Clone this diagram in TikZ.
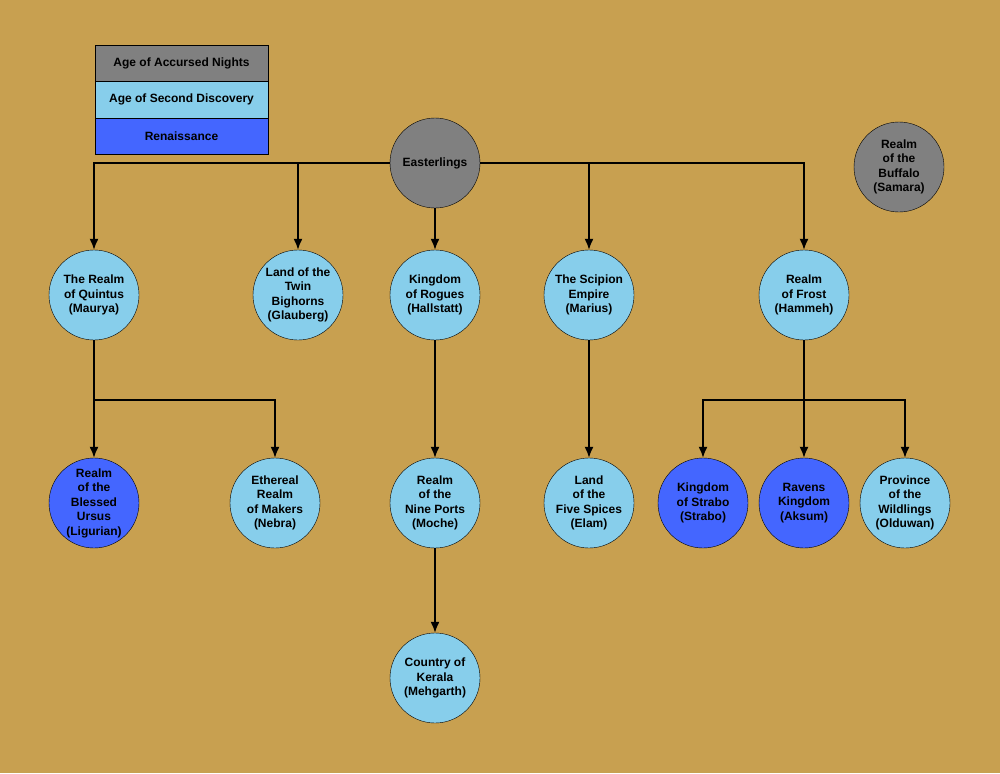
\documentclass[tikz,border=0pt]{standalone}
\usepackage{fontspec}
\setmainfont{Liberation Sans}
\usetikzlibrary{arrows.meta}
\definecolor{bgsand}{HTML}{C8A050}
\definecolor{agegray}{HTML}{808080}
\definecolor{agelight}{HTML}{87CEEB}
\definecolor{ageblue}{HTML}{4466FF}
\tikzset{>={Latex[width=9pt,length=11pt]}}
\tikzset{realm/.style={circle,draw=black,minimum size=90pt,inner sep=0pt,align=center,font=\bfseries\fontsize{12}{14.5}\selectfont}}
\tikzset{legend/.style={draw=black,minimum width=173pt,minimum height=36.5pt,inner sep=0pt,font=\bfseries\fontsize{12}{14}\selectfont}}
\tikzset{link/.style={line width=1.5pt,->}}

\begin{document}
\begin{tikzpicture}[x=1pt,y=-1pt]
  \fill[bgsand](0,0)rectangle(1000,773);
  \useasboundingbox(0,0)rectangle(1000,773);

  % legend
  \node[legend,fill=agegray](lgA) at (181.5,63){Age of Accursed Nights};
  \node[legend,fill=agelight](lgB) at (181.5,99.5){Age of Second Discovery};
  \node[legend,fill=ageblue](lgC) at (181.5,136){Renaissance};

  % realms
  \node[realm,fill=agegray](east) at (435,163){Easterlings};
  \node[realm,fill=agegray](buff) at (899,167){Realm\\of the\\Buffalo\\(Samara)};

  \node[realm,fill=agelight](quin) at (94,295){The Realm\\of Quintus\\(Maurya)};
  \node[realm,fill=agelight](twin) at (298,295){Land of the\\Twin\\Bighorns\\(Glauberg)};
  \node[realm,fill=agelight](rogu) at (435,295){Kingdom\\of Rogues\\(Hallstatt)};
  \node[realm,fill=agelight](scip) at (589,295){The Scipion\\Empire\\(Marius)};
  \node[realm,fill=agelight](fros) at (804,295){Realm\\of Frost\\(Hammeh)};

  \node[realm,fill=ageblue](ursu) at (94,503){Realm\\of the\\Blessed\\Ursus\\(Ligurian)};
  \node[realm,fill=agelight](make) at (275,503){Ethereal\\Realm\\of Makers\\(Nebra)};
  \node[realm,fill=agelight](port) at (435,503){Realm\\of the\\Nine Ports\\(Moche)};
  \node[realm,fill=agelight](spic) at (589,503){Land\\of the\\Five Spices\\(Elam)};
  \node[realm,fill=ageblue](stra) at (703,503){Kingdom\\of Strabo\\(Strabo)};
  \node[realm,fill=ageblue](rave) at (804,503){Ravens\\Kingdom\\(Aksum)};
  \node[realm,fill=agelight](wild) at (905,503){Province\\of the\\Wildlings\\(Olduwan)};

  \node[realm,fill=agelight](kera) at (435,678){Country of\\Kerala\\(Mehgarth)};

  % connectors
  \draw[link](east.west)-|(quin.north);
  \draw[link](east.west)-|(twin.north);
  \draw[link](east)--(rogu);
  \draw[link](east.east)-|(scip.north);
  \draw[link](east.east)-|(fros.north);

  \coordinate(qsplit) at (94,400);
  \coordinate(fsplit) at (804,400);
  \draw[link,-](quin.south)--(qsplit);
  \draw[link](qsplit)--(ursu.north);
  \draw[link](qsplit)-|(make.north);
  \draw[link,-](fros.south)--(fsplit);
  \draw[link](fsplit)-|(stra.north);
  \draw[link](fsplit)--(rave.north);
  \draw[link](fsplit)-|(wild.north);

  \draw[link](rogu)--(port);
  \draw[link](port)--(kera);
  \draw[link](scip)--(spic);
\end{tikzpicture}
\end{document}
